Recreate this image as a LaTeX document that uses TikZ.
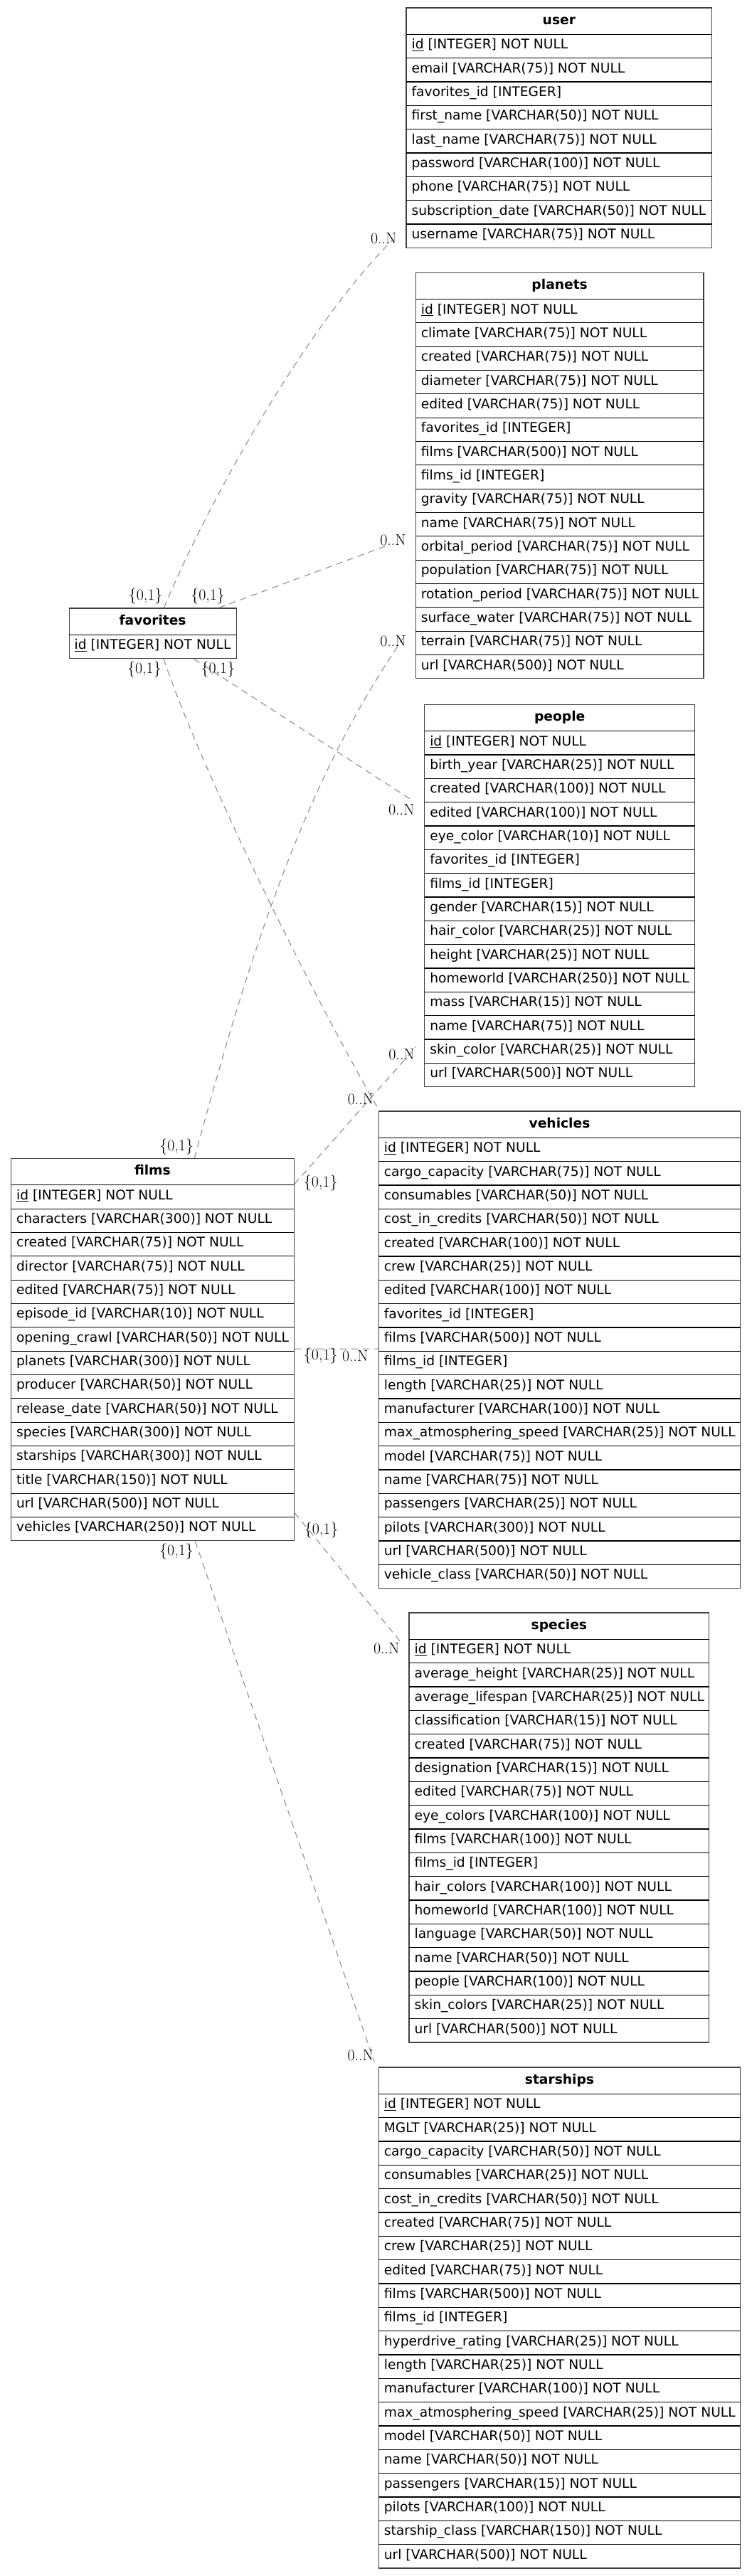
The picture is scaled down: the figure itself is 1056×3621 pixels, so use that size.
\documentclass[tikz,border=0pt]{standalone}
\usepackage{fontspec}
\newfontfamily\dejavu{DejaVu Sans}
\usetikzlibrary{fit,calc}
\definecolor{edgegray}{HTML}{8C8C8C}
\definecolor{boxgray}{HTML}{404040}
\tikzset{
  tablebox/.style={draw=boxgray, line width=0.9pt, inner sep=0pt},
  rowline/.style={draw=black, line width=0.85pt},
  fieldtext/.style={anchor=base west, inner sep=0pt, font=\dejavu\fontsize{14}{16}\selectfont},
  titletext/.style={anchor=base, inner sep=0pt, font=\dejavu\bfseries\fontsize{14}{16}\selectfont},
  relation/.style={draw=edgegray, line width=0.8pt, dash pattern=on 7pt off 5pt},
  cardlabel/.style={inner sep=0pt, text=black, font=\fontsize{16.5}{18}\selectfont},
}
\newcommand\erdtable[6]{%
  \foreach \erdrow [count=\erdi] in {#6} {\xdef\erdcount{\erdi}}%
  \pgfmathsetmacro\erdbottom{#3+37.3+33.333*\erdcount}%
  \coordinate (#1-nw) at (#2,#3);
  \coordinate (#1-se) at (#4,\erdbottom);
  \node[tablebox, fit=(#1-nw)(#1-se)] (#1) {};
  \draw[rowline] (#2,{#3+37.3}) -- (#4,{#3+37.3});
  \node[titletext] at ({(#2+#4)/2},{#3+23.3}) {#5};
  \foreach \erdrow [count=\erdi] in {#6} {
    \node[fieldtext] at ({#2+7.3},{#3+37.3+33.333*(\erdi-1)+20.5}) {\erdrow};
    \ifnum\erdi<\erdcount
      \draw[rowline] (#2,{#3+37.3+33.333*\erdi}) -- (#4,{#3+37.3+33.333*\erdi});
    \fi
  }
}
\begin{document}
\begin{tikzpicture}[x=0.75pt,y=-0.75pt]
\useasboundingbox (0,0) rectangle (1056,3621);
\fill[white] (0,0) rectangle (1056,3621);

\erdtable{user}{571}{11}{1000.7}{user}{\underline{id} [INTEGER] NOT NULL,email [VARCHAR(75)] NOT NULL,favorites\_id [INTEGER],first\_name [VARCHAR(50)] NOT NULL,last\_name [VARCHAR(75)] NOT NULL,password [VARCHAR(100)] NOT NULL,phone [VARCHAR(75)] NOT NULL,subscription\_date [VARCHAR(50)] NOT NULL,username [VARCHAR(75)] NOT NULL}

\erdtable{planets}{584.3}{383.2}{989}{planets}{\underline{id} [INTEGER] NOT NULL,climate [VARCHAR(75)] NOT NULL,created [VARCHAR(75)] NOT NULL,diameter [VARCHAR(75)] NOT NULL,edited [VARCHAR(75)] NOT NULL,favorites\_id [INTEGER],films [VARCHAR(500)] NOT NULL,films\_id [INTEGER],gravity [VARCHAR(75)] NOT NULL,name [VARCHAR(75)] NOT NULL,orbital\_period [VARCHAR(75)] NOT NULL,population [VARCHAR(75)] NOT NULL,rotation\_period [VARCHAR(75)] NOT NULL,surface\_water [VARCHAR(75)] NOT NULL,terrain [VARCHAR(75)] NOT NULL,url [VARCHAR(500)] NOT NULL}

\erdtable{fav}{97.1}{855}{332.1}{favorites}{\underline{id} [INTEGER] NOT NULL}

\erdtable{people}{596.7}{990.4}{976.7}{people}{\underline{id} [INTEGER] NOT NULL,birth\_year [VARCHAR(25)] NOT NULL,created [VARCHAR(100)] NOT NULL,edited [VARCHAR(100)] NOT NULL,eye\_color [VARCHAR(10)] NOT NULL,favorites\_id [INTEGER],films\_id [INTEGER],gender [VARCHAR(15)] NOT NULL,hair\_color [VARCHAR(25)] NOT NULL,height [VARCHAR(25)] NOT NULL,homeworld [VARCHAR(250)] NOT NULL,mass [VARCHAR(15)] NOT NULL,name [VARCHAR(75)] NOT NULL,skin\_color [VARCHAR(25)] NOT NULL,url [VARCHAR(500)] NOT NULL}

\erdtable{vehicles}{532.3}{1562}{1040.7}{vehicles}{\underline{id} [INTEGER] NOT NULL,cargo\_capacity [VARCHAR(75)] NOT NULL,consumables [VARCHAR(50)] NOT NULL,cost\_in\_credits [VARCHAR(50)] NOT NULL,created [VARCHAR(100)] NOT NULL,crew [VARCHAR(25)] NOT NULL,edited [VARCHAR(100)] NOT NULL,favorites\_id [INTEGER],films [VARCHAR(500)] NOT NULL,films\_id [INTEGER],length [VARCHAR(25)] NOT NULL,manufacturer [VARCHAR(100)] NOT NULL,max\_atmosphering\_speed [VARCHAR(25)] NOT NULL,model [VARCHAR(75)] NOT NULL,name [VARCHAR(75)] NOT NULL,passengers [VARCHAR(25)] NOT NULL,pilots [VARCHAR(300)] NOT NULL,url [VARCHAR(500)] NOT NULL,vehicle\_class [VARCHAR(50)] NOT NULL}

\erdtable{films}{15.5}{1628.5}{413.3}{films}{\underline{id} [INTEGER] NOT NULL,characters [VARCHAR(300)] NOT NULL,created [VARCHAR(75)] NOT NULL,director [VARCHAR(75)] NOT NULL,edited [VARCHAR(75)] NOT NULL,episode\_id [VARCHAR(10)] NOT NULL,opening\_crawl [VARCHAR(50)] NOT NULL,planets [VARCHAR(300)] NOT NULL,producer [VARCHAR(50)] NOT NULL,release\_date [VARCHAR(50)] NOT NULL,species [VARCHAR(300)] NOT NULL,starships [VARCHAR(300)] NOT NULL,title [VARCHAR(150)] NOT NULL,url [VARCHAR(500)] NOT NULL,vehicles [VARCHAR(250)] NOT NULL}

\erdtable{species}{575}{2267}{996.7}{species}{\underline{id} [INTEGER] NOT NULL,average\_height [VARCHAR(25)] NOT NULL,average\_lifespan [VARCHAR(25)] NOT NULL,classification [VARCHAR(15)] NOT NULL,created [VARCHAR(75)] NOT NULL,designation [VARCHAR(15)] NOT NULL,edited [VARCHAR(75)] NOT NULL,eye\_colors [VARCHAR(100)] NOT NULL,films [VARCHAR(100)] NOT NULL,films\_id [INTEGER],hair\_colors [VARCHAR(100)] NOT NULL,homeworld [VARCHAR(100)] NOT NULL,language [VARCHAR(50)] NOT NULL,name [VARCHAR(50)] NOT NULL,people [VARCHAR(100)] NOT NULL,skin\_colors [VARCHAR(25)] NOT NULL,url [VARCHAR(500)] NOT NULL}

\erdtable{starships}{532.3}{2906}{1040.7}{starships}{\underline{id} [INTEGER] NOT NULL,MGLT [VARCHAR(25)] NOT NULL,cargo\_capacity [VARCHAR(50)] NOT NULL,consumables [VARCHAR(25)] NOT NULL,cost\_in\_credits [VARCHAR(50)] NOT NULL,created [VARCHAR(75)] NOT NULL,crew [VARCHAR(25)] NOT NULL,edited [VARCHAR(75)] NOT NULL,films [VARCHAR(500)] NOT NULL,films\_id [INTEGER],hyperdrive\_rating [VARCHAR(25)] NOT NULL,length [VARCHAR(25)] NOT NULL,manufacturer [VARCHAR(100)] NOT NULL,max\_atmosphering\_speed [VARCHAR(25)] NOT NULL,model [VARCHAR(50)] NOT NULL,name [VARCHAR(50)] NOT NULL,passengers [VARCHAR(15)] NOT NULL,pilots [VARCHAR(100)] NOT NULL,starship\_class [VARCHAR(150)] NOT NULL,url [VARCHAR(500)] NOT NULL}

% connectors
\draw[relation] ($(fav.north west)+(133.9,0)$) .. controls (294,702) and (432,457) .. ($(user.south west)+(-19,-11.3)$);
\draw[relation] ($(fav.north west)+(211,0)$) -- ($(planets.north west)+(-36.3,383)$);
\draw[relation] ($(fav.south west)+(176,0)$) -- ($(people.north west)+(-15,136.3)$);
\draw[relation] ($(fav.south west)+(133.4,0)$) .. controls (290,1100) and (444,1407) .. ($(vehicles.north west)+(-1.3,-5)$);
\draw[relation] ($(films.north west)+(258.5,0)$) .. controls (355,1325) and (432,1091) .. ($(planets.north west)+(-12.6,508)$);
\draw[relation] ($(films.north east)+(0,36.5)$) -- ($(people.north west)+(-11.2,481.6)$);
\draw[relation] ($(films.north east)+(0,268.2)$) -- ($(vehicles.north west)+(0,334.7)$);
\draw[relation] ($(films.north east)+(0,498.5)$) -- ($(species.north west)+(-11.7,41)$);
\draw[relation] ($(films.south west)+(259.5,0)$) -- ($(starships.north west)+(-5.6,-7.2)$);

% cardinality labels
\node[cardlabel] (lu1) at (204.6,838.3) {\{0,1\}};
\node[cardlabel] (lu2) at (539.2,335.6) {0..N};
\node[cardlabel] (lp1) at (292.1,838.3) {\{0,1\}};
\node[cardlabel] (lp2) at (552.5,759.3) {0..N};
\node[cardlabel] (lv1) at (202.9,941) {\{0,1\}};
\node[cardlabel] (lv2) at (507,1545) {0..N};
\node[cardlabel] (lpe1) at (306.4,941) {\{0,1\}};
\node[cardlabel] (lpe2) at (564.2,1138) {0..N};
\node[cardlabel] (fp1) at (248.2,1612.3) {\{0,1\}};
\node[cardlabel] (fp2) at (552.5,901.6) {0..N};
\node[cardlabel] (fpe1) at (450.7,1662.7) {\{0,1\}};
\node[cardlabel] (fpe2) at (564.5,1481.7) {0..N};
\node[cardlabel] (fv1) at (450.8,1906) {\{0,1\}};
\node[cardlabel] (fv2) at (499.2,1906) {0..N};
\node[cardlabel] (fs1) at (451.7,2151) {\{0,1\}};
\node[cardlabel] (fs2) at (543.3,2316.7) {0..N};
\node[cardlabel] (fst1) at (248,2180.5) {\{0,1\}};
\node[cardlabel] (fst2) at (506.7,2888.8) {0..N};
\end{tikzpicture}
\end{document}
